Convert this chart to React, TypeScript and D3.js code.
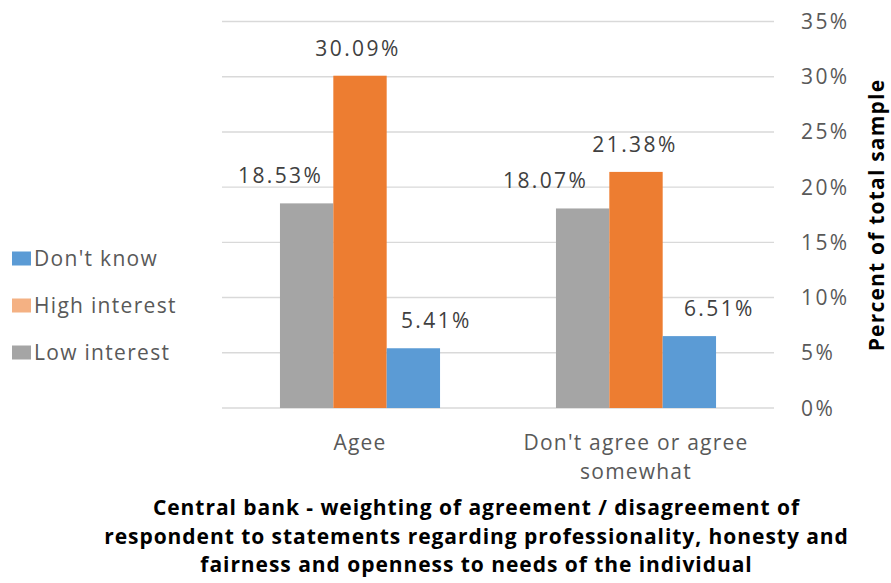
import React from "react";
import * as d3 from "d3";

// ---- data ----
const categories = ["Agee", "Don't agree or agree somewhat"];
const categoryLines = [["Agee"], ["Don't agree or agree", "somewhat"]];
const seriesNames = ["Low interest", "High interest", "Don't know"];
const lowInterest = [18.53, 18.07];
const highInterest = [30.09, 21.38];
const dontKnow = [5.41, 6.51];
const yTicks = [0, 5, 10, 15, 20, 25, 30, 35];
const legendOrder = ["Don't know", "High interest", "Low interest"];
const titleLines = [
  "Central bank - weighting of agreement / disagreement of",
  "respondent to statements regarding professionality, honesty and",
  "fairness and openness to needs of the individual",
];
const axisTitle = "Percent  of total sample";

// ---- styles / layout ----
const W = 891;
const H = 583;
const barColors: Record<string, string> = {
  "Low interest": "#A5A5A5",
  "High interest": "#ED7D31",
  "Don't know": "#5B9BD5",
};
const legendColors: Record<string, string> = {
  "Low interest": "#A5A5A5",
  "High interest": "#F4B183",
  "Don't know": "#5B9BD5",
};
// manual label nudges (as in the source chart)
const labelDx: Record<string, number[]> = {
  "Low interest": [-26, -37],
  "High interest": [-2, -1],
  "Don't know": [23, 30],
};
const FONT = "'Open Sans', 'Liberation Sans', sans-serif";

export default function App() {
  const seriesValues: Record<string, number[]> = {
    "Low interest": lowInterest,
    "High interest": highInterest,
    "Don't know": dontKnow,
  };
  const x0 = d3
    .scaleBand<string>()
    .domain(categories)
    .range([222, 774])
    .paddingInner(0.42)
    .paddingOuter(0.21);
  const x1 = d3
    .scaleBand<string>()
    .domain(seriesNames)
    .range([0, x0.bandwidth()]);
  const y = d3.scaleLinear().domain([0, 35]).range([408, 21.5]);
  const legendY = d3.scalePoint<string>().domain(legendOrder).range([258.5, 352.5]);

  return (
    <div style={{ position: "absolute", left: 0, top: 0 }}>
      <svg width={W} height={H} style={{ display: "block", background: "#fff" }}>
        {/* gridlines */}
        {yTicks.map((t) => (
          <line
            key={"g" + t}
            x1={222}
            x2={774}
            y1={y(t)}
            y2={y(t)}
            stroke="#D9D9D9"
            strokeWidth={1.4}
          />
        ))}
        {/* y tick labels */}
        {yTicks.map((t) => (
          <text
            key={"t" + t}
            x={801}
            y={y(t)}
            dy="0.36em"
            fill="#595959"
            fontFamily={FONT}
            fontSize={21}
            letterSpacing={2.4}
          >
            {t + "%"}
          </text>
        ))}
        {/* bars */}
        {categories.map((c, ci) => (
          <g key={c} transform={`translate(${x0(c)},0)`}>
            {seriesNames.map((s) => {
              const v = seriesValues[s][ci];
              return (
                <rect
                  key={s}
                  x={x1(s)}
                  y={y(v)}
                  width={x1.bandwidth()}
                  height={y(0) - y(v)}
                  fill={barColors[s]}
                />
              );
            })}
          </g>
        ))}
        {/* data labels */}
        {categories.map((c, ci) =>
          seriesNames.map((s) => {
            const v = seriesValues[s][ci];
            const cx = (x0(c) as number) + (x1(s) as number) + x1.bandwidth() / 2 + labelDx[s][ci];
            return (
              <text
                key={c + s}
                x={cx}
                y={y(v) - 20}
                textAnchor="middle"
                fill="#404040"
                fontFamily={FONT}
                fontSize={21}
                letterSpacing={2.4}
              >
                {v.toFixed(2) + "%"}
              </text>
            );
          })
        )}
        {/* category labels */}
        {categories.map((c, ci) => (
          <text
            key={"c" + c}
            textAnchor="middle"
            fill="#595959"
            fontFamily={FONT}
            fontSize={21}
            letterSpacing={1.2}
          >
            {categoryLines[ci].map((ln, li) => (
              <tspan key={li} x={(x0(c) as number) + x0.bandwidth() / 2} y={450 + li * 29}>
                {ln}
              </tspan>
            ))}
          </text>
        ))}
        {/* legend */}
        {legendOrder.map((s) => (
          <g key={"l" + s} transform={`translate(0,${legendY(s)})`}>
            <rect x={12} y={-7} width={19} height={14} fill={legendColors[s]} />
            <text
              x={34}
              y={7.5}
              fill="#595959"
              fontFamily={FONT}
              fontSize={21}
              letterSpacing={1.3}
            >
              {s}
            </text>
          </g>
        ))}
        {/* x axis title */}
        <text
          textAnchor="middle"
          fill="#000"
          fontFamily={FONT}
          fontWeight="bold"
          fontSize={21}
          letterSpacing={0.95}
        >
          {titleLines.map((ln, i) => (
            <tspan key={i} x={476.5} y={515 + i * 28.5}>
              {ln}
            </tspan>
          ))}
        </text>
        {/* y axis title */}
        <text
          transform="translate(884,215) rotate(-90)"
          textAnchor="middle"
          fill="#000"
          fontFamily={FONT}
          fontWeight="bold"
          fontSize={21}
          letterSpacing={1.2}
        >
          {axisTitle}
        </text>
      </svg>
    </div>
  );
}
